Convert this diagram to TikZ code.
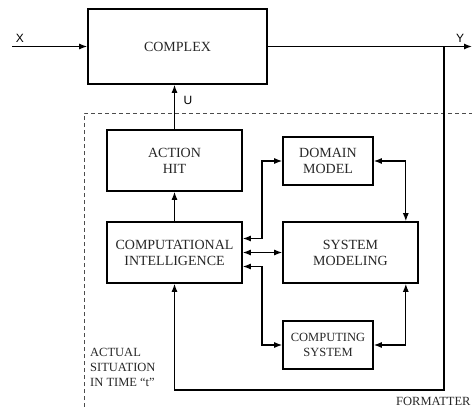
\documentclass[tikz,border=0pt]{standalone}
\usepackage{fontspec}
\setmainfont{Liberation Serif}
\newfontfamily\labelfont{Liberation Sans}
\usetikzlibrary{arrows.meta}

\begin{document}
\begin{tikzpicture}[x=1pt,y=-1pt,
    block/.style={draw, line width=1.6pt, minimum width=135pt, minimum height=61pt,
        align=center, inner sep=0pt, text=black!85, font=\fontsize{14}{16}\selectfont},
    smallblock/.style={block, minimum width=90pt, minimum height=48pt},
    link/.style={line width=1.2pt, -{Latex[length=8pt,width=6pt]}},
    dlink/.style={line width=1.2pt, {Latex[length=8pt,width=6pt]}-{Latex[length=8pt,width=6pt]}},
    sig/.style={inner sep=0pt, font=\labelfont\fontsize{12}{14}\selectfont},
    note/.style={inner sep=0pt, align=left, text=black!85, font=\fontsize{12.5}{15}\selectfont}]
        \useasboundingbox (0,0) rectangle (472,407);

        % Draw the formatter frame
        \draw[dashed, dash pattern=on 4pt off 3pt, line width=0.9pt, black!70] (84,407) -- (84,113) -- (472,113);

        % Draw the blocks
        \node[block, minimum width=179pt, minimum height=75pt] (complex) at (177.5,46.5) {COMPLEX};
        \node[block] (action) at (174.5,160.5) {ACTION\\HIT};
        \node[block] (ci) at (174.5,252.5) {COMPUTATIONAL\\INTELLIGENCE};
        \node[smallblock] (domain) at (328,161) {DOMAIN\\MODEL};
        \node[block] (sysmod) at (350.5,252.5) {SYSTEM\\MODELING};
        \node[smallblock, font=\fontsize{12.5}{15}\selectfont] (computing) at (328,345) {COMPUTING\\SYSTEM};

        % Signal points
        \coordinate (xin) at (12,46.5);
        \coordinate (yout) at (472,46.5);
        \coordinate (tap) at (444,46.5);
        \coordinate (tapbottom) at (444,390);
        \coordinate (bus) at (262,0);

        % Draw the signals
        \draw[link] (xin) -- (complex.west);
        \draw[line width=1.2pt] (complex.east) -- (tap);
        \draw[link] (tap) -- (yout);
        \draw[link] (tap) -- (tapbottom) -| (ci.south);
        \draw[link] (action.north) -- (action.north |- complex.south);
        \draw[link] (ci.north) -- (action.south);

        % Draw the links of the intelligence
        \draw[dlink] ([yshift=14pt]ci.east) -| (bus |- domain.west) -- (domain.west);
        \draw[dlink] (ci.east) -- (sysmod.west);
        \draw[dlink] ([yshift=-14pt]ci.east) -| (bus |- computing.west) -- (computing.west);
        \draw[dlink] (domain.east) -| ([xshift=-13pt]sysmod.north east);
        \draw[dlink] (computing.east) -| ([xshift=-13pt]sysmod.south east);

        % Add the labels
        \node[sig] (xlabel) at (20,38) {X};
        \node[sig] (ylabel) at (460,38) {Y};
        \node[sig] (ulabel) at (188,100) {U};
        \node[note, anchor=north west] (actual) at (90,348) {ACTUAL\\SITUATION\\IN TIME ``t''};
        \node[note, anchor=base west] (formatter) at (396,405) {FORMATTER};
    \end{tikzpicture}
\end{document}
